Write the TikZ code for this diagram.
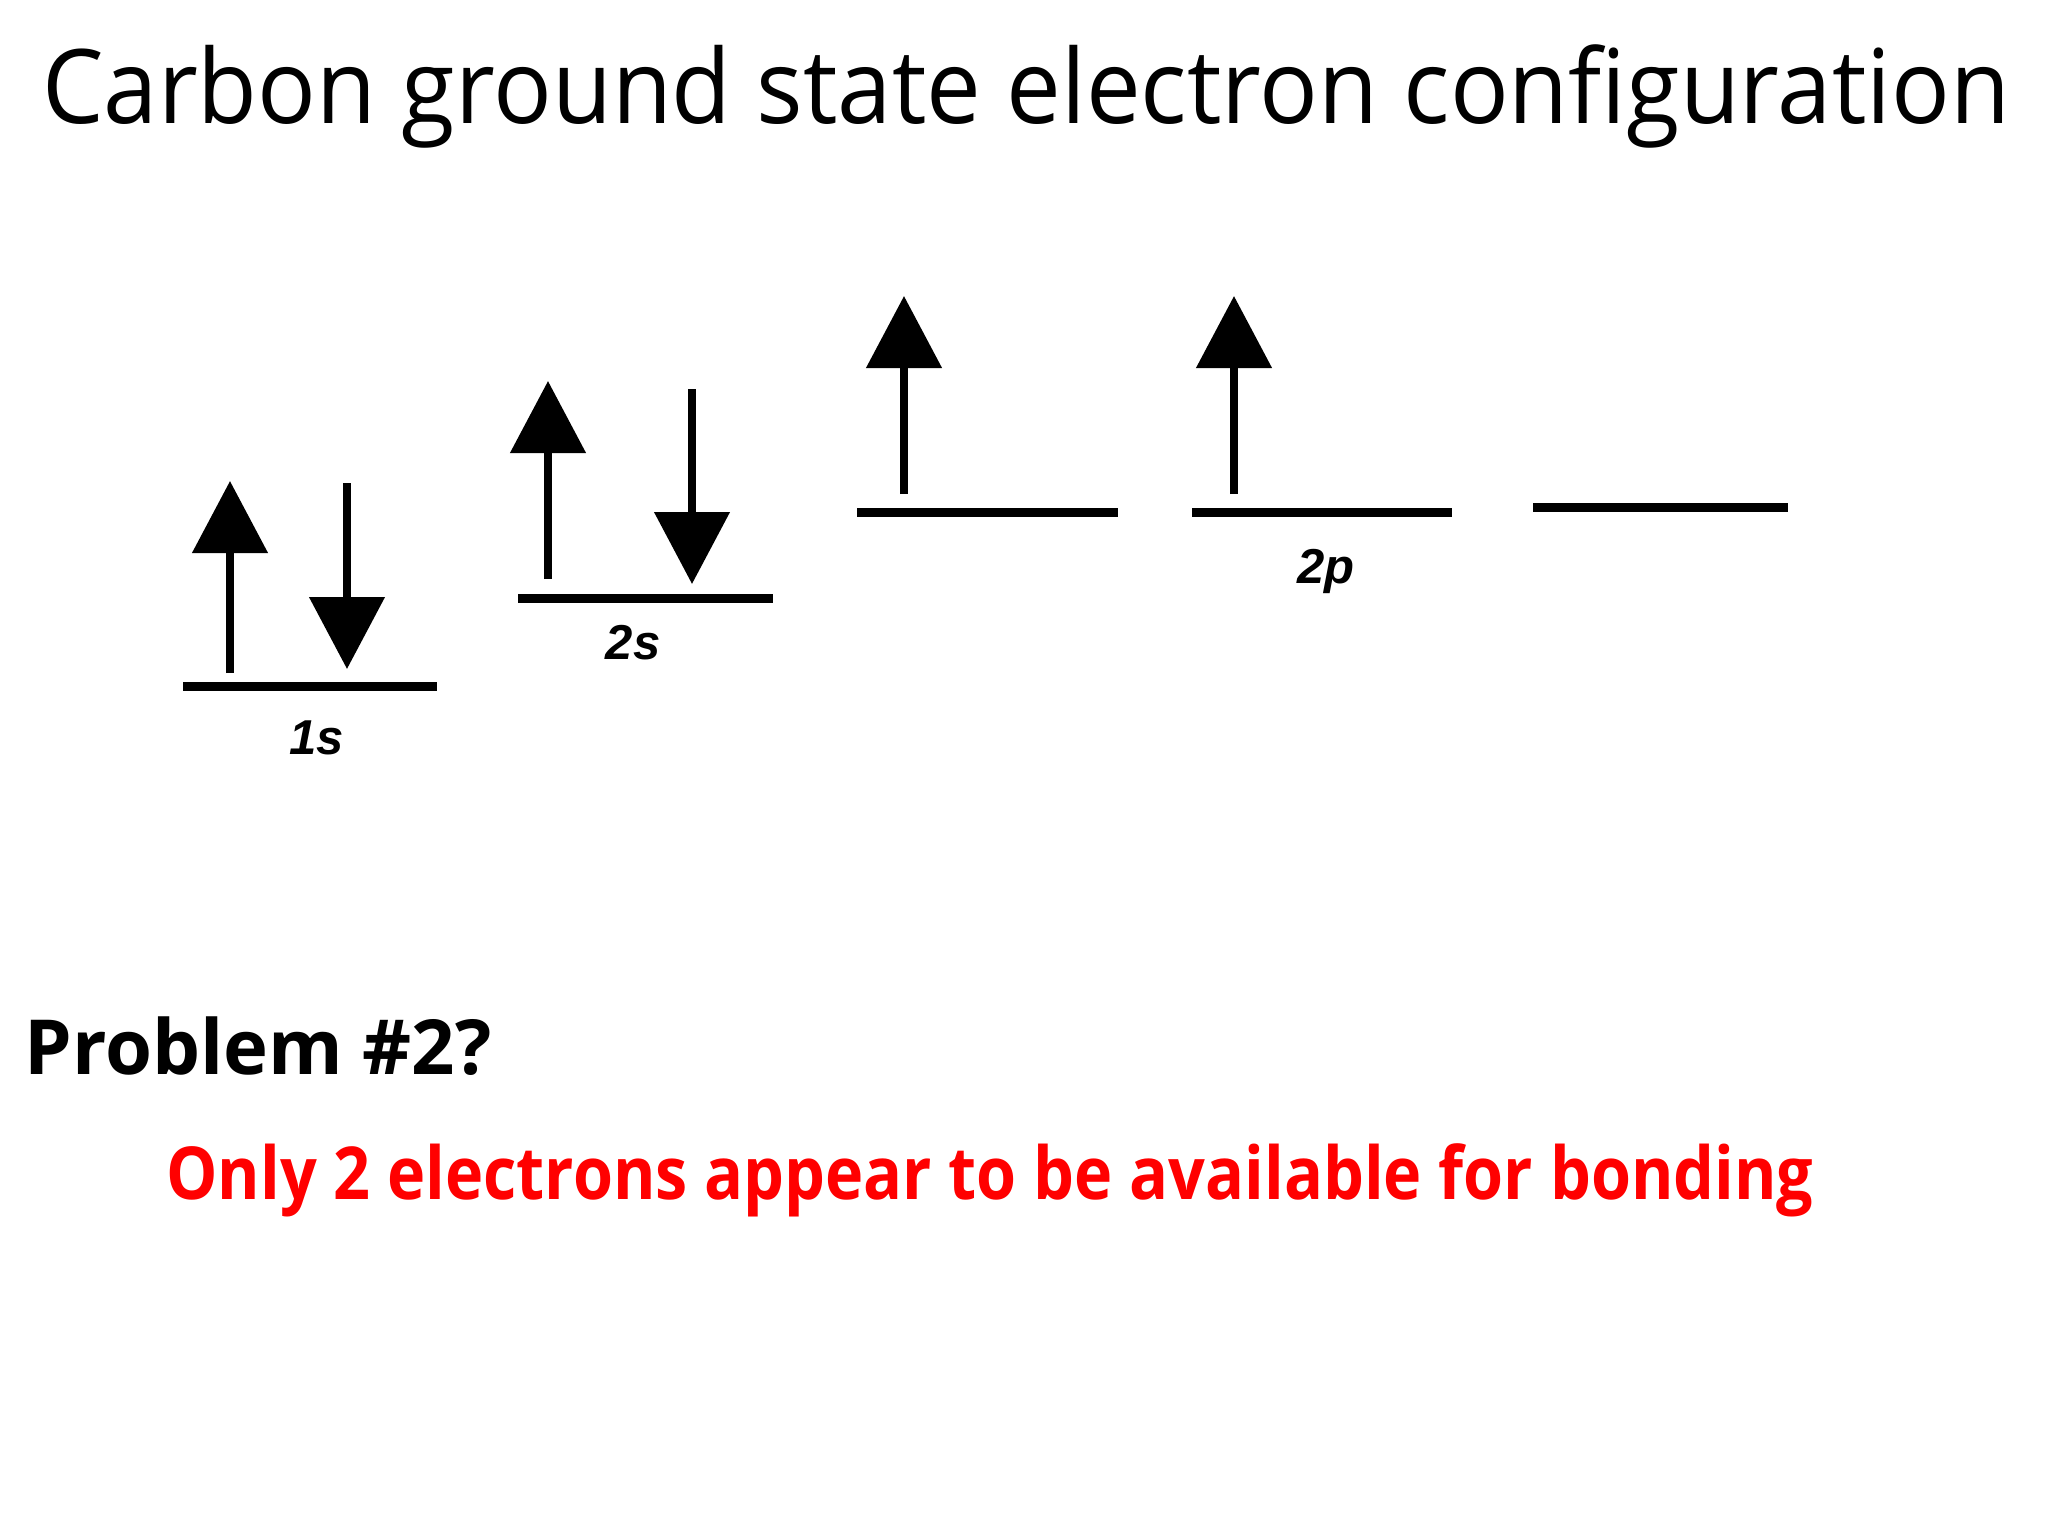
\documentclass[tikz,border=0pt]{standalone}
\usepackage{fontspec}
\setmainfont{Open Sans}
\newfontfamily\titlefont{Open Sans}[FakeStretch=0.947]
\newfontfamily\redfont{Open Sans}[FakeStretch=0.886]
\newfontfamily\lblfont{Liberation Sans}
\usetikzlibrary{arrows.meta}
\definecolor{txtred}{RGB}{255,0,0}
\begin{document}
\begin{tikzpicture}[x=0.5pt,y=-0.5pt,
  levelline/.style={line width=4.5pt,black},
  elec/.style={line width=4pt,black,-{Triangle[length=36pt,width=37pt]}},
  lbl/.style={font=\lblfont\bfseries\itshape\fontsize{24.5}{24.5}\selectfont,inner sep=0pt,anchor=base},
  titletext/.style={font=\titlefont\fontsize{51.5}{60}\selectfont,inner sep=0pt,anchor=base west},
  probtext/.style={font=\bfseries\fontsize{38}{44}\selectfont,inner sep=0pt,anchor=base west},
  redtext/.style={font=\redfont\bfseries\fontsize{36.5}{42}\selectfont,text=txtred,inner sep=0pt,anchor=base west}]
\useasboundingbox[fill=white] (0,0) rectangle (2048,1536);

\node[titletext] (title) at (42,124) {Carbon ground state electron configuration};

% level lines
\coordinate (aL) at (183,686); \coordinate (aR) at (437,686);
\coordinate (bL) at (518,598); \coordinate (bR) at (773,598);
\coordinate (cL) at (857,512); \coordinate (cR) at (1118,512);
\coordinate (dL) at (1192,512); \coordinate (dR) at (1452,512);
\coordinate (eL) at (1533,507); \coordinate (eR) at (1788,507);
\draw[levelline] (aL) -- (aR);
\draw[levelline] (bL) -- (bR);
\draw[levelline] (cL) -- (cR);
\draw[levelline] (dL) -- (dR);
\draw[levelline] (eL) -- (eR);

% electrons
\coordinate (e1a) at (230,673); \coordinate (e1b) at (230,481);
\coordinate (e2a) at (347,483); \coordinate (e2b) at (347,669);
\coordinate (e3a) at (548,579); \coordinate (e3b) at (548,381);
\coordinate (e4a) at (692,389); \coordinate (e4b) at (692,584);
\coordinate (e5a) at (904,494); \coordinate (e5b) at (904,296);
\coordinate (e6a) at (1234,494); \coordinate (e6b) at (1234,296);
\draw[elec] (e1a) -- (e1b);
\draw[elec] (e2a) -- (e2b);
\draw[elec] (e3a) -- (e3b);
\draw[elec] (e4a) -- (e4b);
\draw[elec] (e5a) -- (e5b);
\draw[elec] (e6a) -- (e6b);

% labels
\node[lbl] (l1s) at (317,754) {1s};
\node[lbl] (l2s) at (633,659) {2s};
\node[lbl] (l2p) at (1326,583) {2p};

\node[probtext] (prob) at (24,1074) {Problem \#2?};
\node[redtext] (note) at (166,1199) {Only 2 electrons appear to be available for bonding};
\end{tikzpicture}
\end{document}
